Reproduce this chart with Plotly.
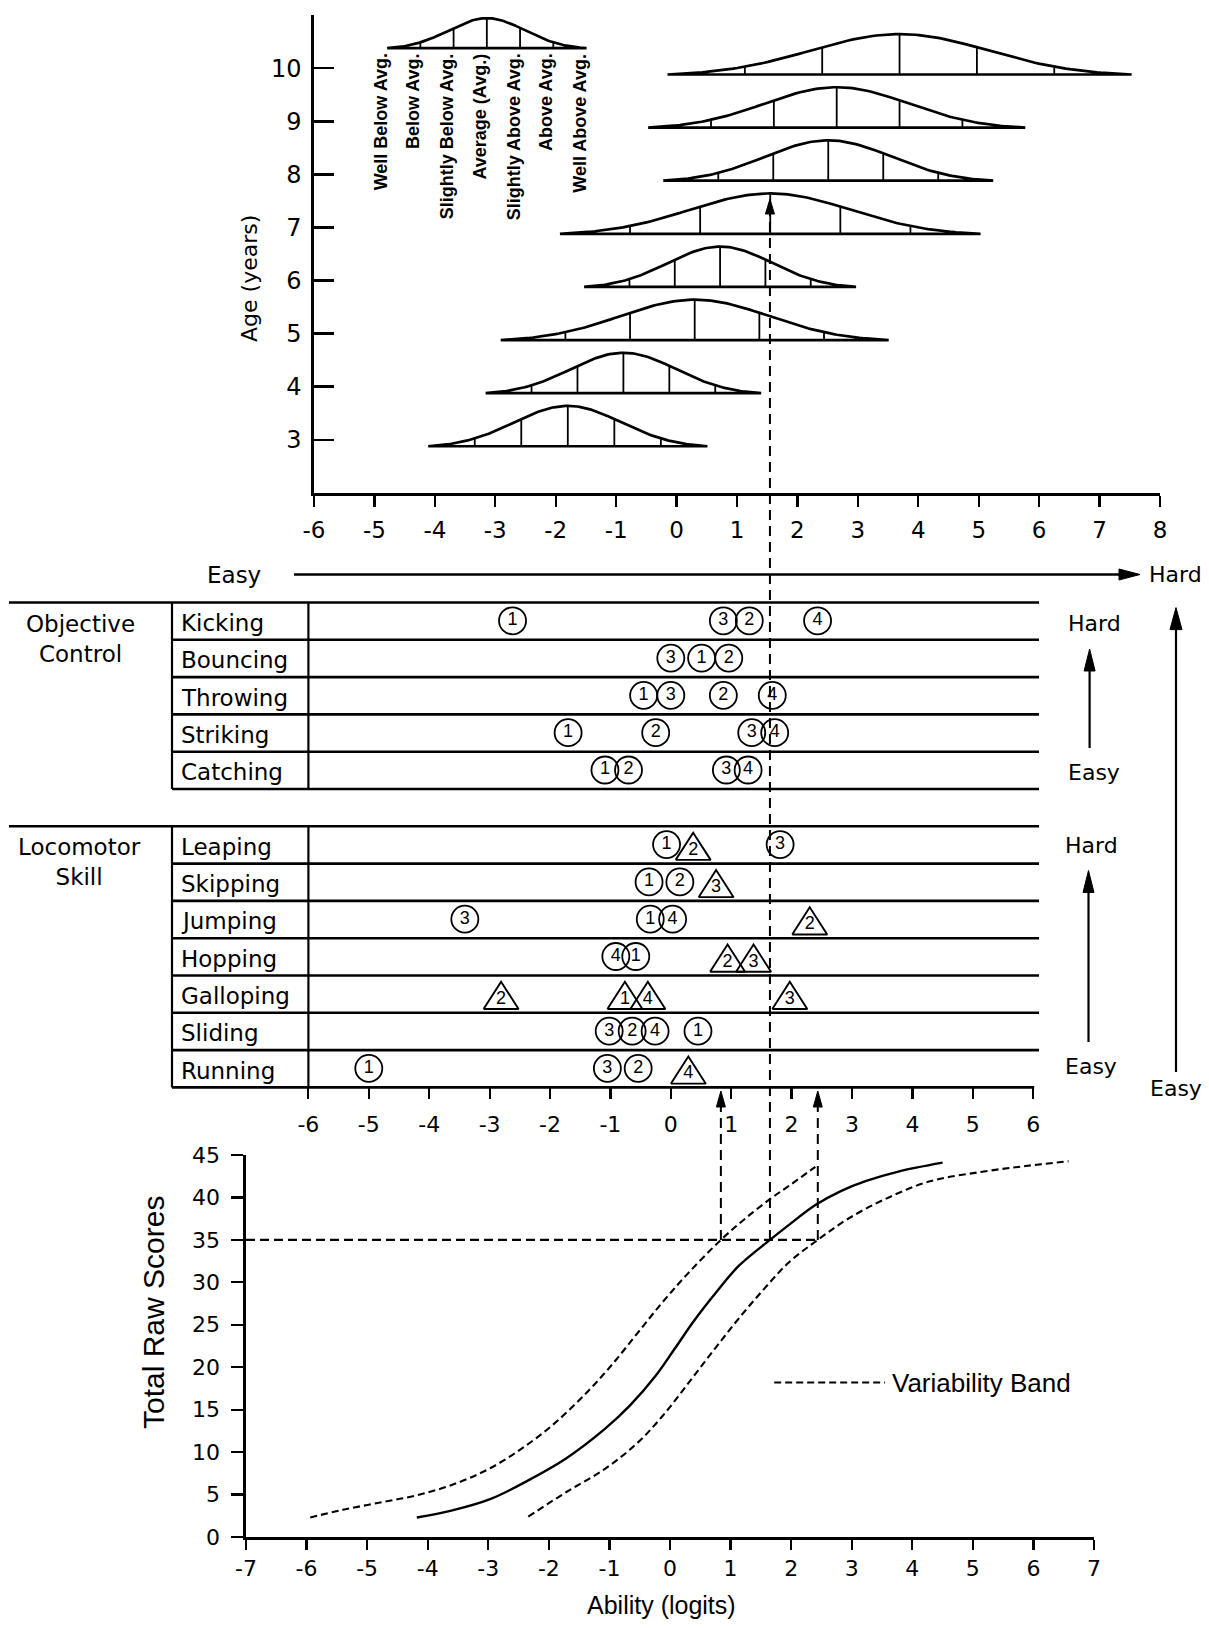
import numpy as np
import plotly.graph_objects as go

W, H = 1209, 1628
FW = "DejaVu Sans"
FA = "Liberation Sans, Arial, sans-serif"
BLACK = "black"

# ---------------- data ----------------
ages = [3, 4, 5, 6, 7, 8, 9, 10]
age_mean = [-1.80, -0.88, 0.30, 0.72, 1.55, 2.51, 2.65, 3.69]
age_sd = [0.77, 0.76, 1.07, 0.75, 1.16, 0.91, 1.04, 1.28]
age_ticks = [3, 4, 5, 6, 7, 8, 9, 10, 11]
age_ticktext = ["3", "4", "5", "6", "7", "8", "9", "10", ""]
top_x_ticks = list(range(-6, 9))

key_labels = ["Well Below Avg.", "Below Avg.", "Slightly Below Avg.", "Average (Avg.)",
              "Slightly Above Avg.", "Above Avg.", "Well Above Avg."]
key_mean, key_sd, key_age = -3.14, 0.55, 10.375

obj_skills = ["Kicking", "Bouncing", "Throwing", "Striking", "Catching"]
loco_skills = ["Leaping", "Skipping", "Jumping", "Hopping", "Galloping", "Sliding", "Running"]

# (numbers, ability positions, triangle flags)
kicking = ([1, 3, 2, 4], [-2.62, 0.87, 1.30, 2.43], [0, 0, 0, 0])
bouncing = ([3, 1, 2], [0.00, 0.51, 0.96], [0, 0, 0])
throwing = ([1, 3, 2, 4], [-0.45, 0.00, 0.87, 1.68], [0, 0, 0, 0])
striking = ([1, 2, 3, 4], [-1.70, -0.25, 1.34, 1.72], [0, 0, 0, 0])
catching = ([1, 2, 3, 4], [-1.09, -0.70, 0.92, 1.28], [0, 0, 0, 0])
leaping = ([1, 2, 3], [-0.07, 0.37, 1.81], [0, 1, 0])
skipping = ([1, 2, 3], [-0.36, 0.15, 0.75], [0, 0, 1])
jumping = ([3, 1, 4, 2], [-3.41, -0.34, 0.03, 2.30], [0, 0, 0, 1])
hopping = ([4, 1, 2, 3], [-0.91, -0.58, 0.94, 1.37], [0, 0, 1, 1])
galloping = ([2, 1, 4, 3], [-2.81, -0.76, -0.38, 1.97], [1, 1, 1, 1])
sliding = ([3, 2, 4, 1], [-1.02, -0.64, -0.26, 0.45], [0, 0, 0, 0])
running = ([1, 3, 2, 4], [-5.00, -1.05, -0.54, 0.29], [0, 0, 0, 1])
skill_x_ticks = list(range(-6, 7))

fit_ability = [-4.18, -3.61, -2.97, -2.34, -1.71, -1.08, -0.66, -0.24, 0.08, 0.40, 0.76,
               1.13, 1.65, 1.97, 2.40, 2.82, 3.24, 3.77, 4.50]
fit_score = [2.3, 3.1, 4.45, 6.67, 9.28, 12.7, 15.5, 18.96, 22.2, 25.5, 28.8,
             31.9, 35.0, 36.8, 39.1, 40.75, 41.95, 43.05, 44.1]
upper_ability = [-5.94, -5.40, -4.76, -4.13, -3.50, -2.97, -2.45, -1.92, -1.39, -0.97, -0.55,
                 -0.13, 0.29, 0.84, 1.24, 1.65, 1.97, 2.40]
upper_score = [2.3, 3.2, 4.1, 5.0, 6.4, 8.1, 10.4, 13.3, 16.9, 20.2, 23.9,
               27.6, 31.0, 35.0, 37.5, 39.8, 41.4, 43.6]
lower_ability = [-2.34, -1.71, -1.08, -0.55, -0.13, 0.29, 0.71, 1.13, 1.55, 1.97, 2.44,
                 2.92, 3.55, 4.29, 5.13, 5.87, 6.58]
lower_score = [2.4, 5.3, 8.0, 11.0, 14.2, 18.0, 21.9, 25.7, 29.2, 32.4, 35.0,
               37.4, 39.8, 41.9, 43.0, 43.7, 44.26]
raw_ticks = list(range(0, 46, 5))
ability_ticks = list(range(-7, 8))
cut_score = 35
cut_abilities = [0.84, 1.65, 2.44]

# ---------------- geometry (pixels) ----------------
TOP_XPX, TOP_XR = (314.0, 1160.0), (-6, 8)
TOP_YPX, TOP_YR = (493.0, 15.0), (2, 11)
MID_ZERO, MID_UNIT = 670.8, 60.4
MID_XPX = (9.0, 1039.0)
MID_XR = ((MID_XPX[0] - MID_ZERO) / MID_UNIT, (MID_XPX[1] - MID_ZERO) / MID_UNIT)
ROW0, ROWH = 602.5, 37.3
MID_YR = (13, -1.5)
MID_YPX = (ROW0 + 13 * ROWH, ROW0 - 1.5 * ROWH)
BOT_XPX, BOT_XR = (246.0, 1094.0), (-7, 7)
BOT_YPX, BOT_YR = (1537.0, 1155.0), (0, 45)


def lin(v, r, p):
    return p[0] + (v - r[0]) * (p[1] - p[0]) / (r[1] - r[0])


def fx(px):
    return px / W


def fy(py):
    return 1 - py / H


def mid_x_px(v):
    return lin(v, MID_XR, MID_XPX)


def mid_y_px(v):
    return lin(v, MID_YR, MID_YPX)


def bot_x_px(v):
    return lin(v, BOT_XR, BOT_XPX)


def bot_y_px(v):
    return lin(v, BOT_YR, BOT_YPX)


def hy(vals):
    return [str(v) for v in vals]


fig = go.Figure()

# ---------------- top panel: age distributions ----------------
C = 1.15
E3 = np.exp(-9 / (2 * C * C))


def bell(z):
    return (np.exp(-np.asarray(z) ** 2 / (2 * C * C)) - E3) / (1 - E3)


ox, oy, vx, vy = [], [], [], []


def add_bell(m, s, base, h):
    z = np.linspace(-3, 3, 121)
    ox.extend(list(m + z * s) + [m - 3 * s, None])
    oy.extend(list(base + h * bell(z)) + [base, None])
    for k in (-2, -1, 0, 1, 2):
        vx.extend([m + k * s, m + k * s, None])
        vy.extend([base, base + h * float(bell(k)), None])


for a, m, s in zip(ages, age_mean, age_sd):
    add_bell(m, s, a - 0.12, 0.76)
add_bell(key_mean, key_sd, key_age, 0.565)

fig.add_trace(go.Scatter(x=ox, y=oy, mode="lines", line=dict(color=BLACK, width=2.7),
                         xaxis="x", yaxis="y", hoverinfo="skip"))
fig.add_trace(go.Scatter(x=vx, y=vy, mode="lines", line=dict(color=BLACK, width=1.8),
                         xaxis="x", yaxis="y", hoverinfo="skip"))

annotations = []
for k, lab in zip(range(-3, 4), key_labels):
    annotations.append(dict(x=key_mean + k * key_sd - 0.11, y=key_age - 0.06, xref="x", yref="y",
                            text=lab, showarrow=False, textangle=-90, xanchor="center",
                            yanchor="top", font=dict(family=FA, size=18, color=BLACK, weight="bold")))

# ---------------- middle panel: skills ----------------
rows = {}
for i, n in enumerate(obj_skills):
    rows[n] = i
for i, n in enumerate(loco_skills):
    rows[n] = 6 + i
skill_data = {"Kicking": kicking, "Bouncing": bouncing, "Throwing": throwing, "Striking": striking,
              "Catching": catching, "Leaping": leaping, "Skipping": skipping, "Jumping": jumping,
              "Hopping": hopping, "Galloping": galloping, "Sliding": sliding, "Running": running}

cx, cy, ct = [], [], []
tx, ty, ttx, tty, ttt = [], [], [], [], []
HW = 17.5 / MID_UNIT
for name, (nums, pos, tri) in skill_data.items():
    r = rows[name]
    for n, p, t in zip(nums, pos, tri):
        if t:
            top, bot = r + 0.17, r + 0.90
            tx.extend([p - HW, p + HW, p, p - HW, None])
            ty.extend([bot, bot, top, bot, None])
            ttx.append(p)
            tty.append(r + 0.64)
            ttt.append(str(n))
        else:
            cx.append(p)
            cy.append(r + 0.49)
            ct.append(str(n))

fig.add_trace(go.Scatter(x=cx, y=cy, mode="markers+text", text=ct, textposition="middle center",
                         marker=dict(symbol="circle-open", size=27, color=BLACK, line=dict(width=1.8)),
                         textfont=dict(family=FA, size=18, color=BLACK),
                         xaxis="x2", yaxis="y2", hoverinfo="skip"))
fig.add_trace(go.Scatter(x=tx, y=ty, mode="lines", line=dict(color=BLACK, width=1.9),
                         xaxis="x2", yaxis="y2", hoverinfo="skip"))
fig.add_trace(go.Scatter(x=ttx, y=tty, mode="text", text=ttt, textposition="middle center",
                         textfont=dict(family=FA, size=18, color=BLACK),
                         xaxis="x2", yaxis="y2", hoverinfo="skip"))

for name, r in rows.items():
    annotations.append(dict(x=fx(179), y=fy(mid_y_px(r + 0.55)), xref="paper", yref="paper",
                            text=name, showarrow=False, xanchor="left", yanchor="middle",
                            font=dict(family=FW, size=23, color=BLACK)))

# ---------------- bottom panel: raw score curve ----------------
fig.add_trace(go.Scatter(x=fit_ability, y=fit_score, mode="lines", line=dict(color=BLACK, width=2.4, shape="spline"),
                         xaxis="x3", yaxis="y3", hoverinfo="skip"))
for xs, ys in ((upper_ability, upper_score), (lower_ability, lower_score)):
    fig.add_trace(go.Scatter(x=xs, y=ys, mode="lines",
                             line=dict(color=BLACK, width=2.1, dash="7px,4px", shape="spline"),
                             xaxis="x3", yaxis="y3", hoverinfo="skip"))
fig.add_trace(go.Scatter(x=[1.72, 3.55], y=[18.2, 18.2], mode="lines",
                         line=dict(color=BLACK, width=2.1, dash="7px,4px"),
                         xaxis="x3", yaxis="y3", hoverinfo="skip"))
annotations.append(dict(x=3.64, y=18.2, xref="x3", yref="y3", text="Variability Band", showarrow=False,
                        xanchor="left", yanchor="middle", font=dict(family=FA, size=26, color=BLACK)))

# ---------------- shapes ----------------
shapes = []


def seg(x0, y0, x1, y1, w=2.6, dash=None):
    d = dict(type="line", xref="paper", yref="paper", x0=fx(x0), y0=fy(y0), x1=fx(x1), y1=fy(y1),
             line=dict(color=BLACK, width=w))
    if dash:
        d["line"]["dash"] = dash
    shapes.append(d)


def head(xt, yt, direction, L, hw):
    if direction == "up":
        pts = [(xt, yt), (xt - hw, yt + L), (xt + hw, yt + L)]
    else:
        pts = [(xt, yt), (xt - L, yt - hw), (xt - L, yt + hw)]
    path = "M " + " L ".join(f"{fx(a):.5f},{fy(b):.5f}" for a, b in pts) + " Z"
    shapes.append(dict(type="path", xref="paper", yref="paper", path=path, fillcolor=BLACK,
                       line=dict(color=BLACK, width=1)))


LEFT_BOX = 172.0
RIGHT_END = 1039.0
for k in range(0, 14):
    x0 = 9.0 if k in (0, 6) else LEFT_BOX
    x1 = mid_x_px(6) + 1 if k == 13 else RIGHT_END
    seg(x0, mid_y_px(k), x1, mid_y_px(k), w=2.6)
for (r0, r1) in ((0, 5), (6, 13)):
    seg(LEFT_BOX, mid_y_px(r0), LEFT_BOX, mid_y_px(r1), w=2.2)
    seg(mid_x_px(-6), mid_y_px(r0), mid_x_px(-6), mid_y_px(r1), w=2.2)

# dashed guide lines
DASH = "10px,6px"
ycut = bot_y_px(cut_score)
seg(bot_x_px(-7), ycut, bot_x_px(cut_abilities[2]), ycut, w=2.4, dash="9px,5px")
for a in (cut_abilities[0], cut_abilities[2]):
    xa = bot_x_px(a)
    seg(xa, ycut, xa, 1100, w=2.0, dash=DASH)
    head(xa, 1091, "up", 16, 4.5)
xm = bot_x_px(cut_abilities[1])
seg(xm, ycut, xm, 208, w=2.0, dash=DASH)
head(xm, 199, "up", 15, 4.5)

# difficulty arrows
seg(294, 574.5, 1122, 574.5, w=2.6)
head(1140, 574.5, "right", 21, 5.5)
seg(1089.6, 748, 1089.6, 665, w=2.2)
head(1089.6, 649, "up", 22, 5.5)
seg(1088.5, 1042, 1088.5, 885, w=2.2)
head(1088.5, 870.5, "up", 22, 5.5)
seg(1176, 1072, 1176, 622, w=2.2)
head(1176, 607.6, "up", 22, 6)


def label(x, y, text, size=22, xanchor="center", family=FW, angle=0):
    annotations.append(dict(x=fx(x), y=fy(y), xref="paper", yref="paper", text=text, showarrow=False,
                            xanchor=xanchor, yanchor="middle", textangle=angle,
                            font=dict(family=family, size=size, color=BLACK)))


label(234, 574.5, "Easy", size=23)
label(1147, 574.5, "Hard", xanchor="left")
label(1094, 623, "Hard")
label(1094, 773, "Easy")
label(1091, 845.5, "Hard")
label(1091, 1066, "Easy")
label(1176, 1088, "Easy")
label(81, 638.5, "Objective<br>Control", size=23)
label(79, 861.5, "Locomotor<br>Skill", size=23)
label(249, 279, "Age (years)", size=22, angle=-90)
label(153, 1313, "Total Raw Scores", size=30, family=FA, angle=-90)
label(661, 1605, "Ability (logits)", size=25, family=FA)

# ---------------- layout ----------------
axis_common = dict(showgrid=False, zeroline=False, linecolor=BLACK, tickcolor=BLACK, fixedrange=True,
                   automargin=False)
fig.update_layout(
    template="none",
    width=W, height=H, margin=dict(l=0, r=0, t=0, b=0, pad=0, autoexpand=False),
    paper_bgcolor="white", plot_bgcolor="white", showlegend=False,
    xaxis=dict(domain=[fx(TOP_XPX[0]), fx(TOP_XPX[1])], range=list(TOP_XR), anchor="y",
               tickvals=top_x_ticks, ticktext=hy(top_x_ticks), ticks="outside", ticklen=11, tickwidth=2.2,
               showline=True, linewidth=2.6, ticklabelstandoff=4,
               tickfont=dict(family=FW, size=23, color=BLACK), **axis_common),
    yaxis=dict(domain=[fy(TOP_YPX[0]), fy(TOP_YPX[1])], range=list(TOP_YR), anchor="x",
               tickvals=age_ticks, ticktext=age_ticktext, ticks="inside", ticklen=20, tickwidth=2.6,
               showline=True, linewidth=2.6, ticklabelstandoff=5,
               tickfont=dict(family=FW, size=24, color=BLACK), **axis_common),
    xaxis2=dict(domain=[fx(MID_XPX[0]), fx(MID_XPX[1])], range=list(MID_XR), anchor="y2",
                tickvals=skill_x_ticks, ticktext=hy(skill_x_ticks), ticks="outside", ticklen=11, tickwidth=2.2,
                showline=False, ticklabelstandoff=6,
                tickfont=dict(family=FW, size=22, color=BLACK), **axis_common),
    yaxis2=dict(domain=[fy(MID_YPX[0]), fy(MID_YPX[1])], range=list(MID_YR), anchor="x2",
                visible=False, **axis_common),
    xaxis3=dict(domain=[fx(BOT_XPX[0]), fx(BOT_XPX[1])], range=list(BOT_XR), anchor="y3",
                tickvals=ability_ticks, ticktext=hy(ability_ticks), ticks="outside", ticklen=10, tickwidth=2.2,
                showline=True, linewidth=2.6,
                tickfont=dict(family=FW, size=22, color=BLACK), **axis_common),
    yaxis3=dict(domain=[fy(BOT_YPX[0]), fy(BOT_YPX[1])], range=list(BOT_YR), anchor="x3",
                tickvals=raw_ticks, ticks="outside", ticklen=12, tickwidth=2.2,
                showline=True, linewidth=2.6, ticklabelstandoff=7,
                tickfont=dict(family=FW, size=22, color=BLACK), **axis_common),
    shapes=shapes, annotations=annotations,
)

fig.write_html("out.html", config={"displayModeBar": False, "staticPlot": True},
               post_script="document.body.style.margin='0px';document.body.style.overflow='hidden';")
